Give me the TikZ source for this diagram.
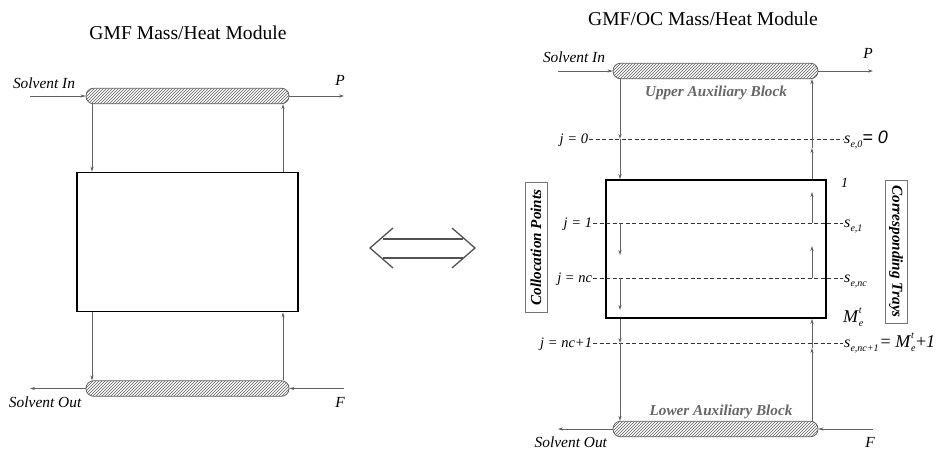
\documentclass[tikz,border=0pt]{standalone}
\usepackage{fontspec}
\setmainfont{Liberation Serif}
\newfontfamily\sansfam{Liberation Sans}
\usetikzlibrary{arrows.meta,patterns}
\newcommand{\ttlfont}{\fontsize{19.6}{22}\selectfont}
\newcommand{\labfont}{\fontsize{15.4}{17}\selectfont\itshape}
\newcommand{\bifont}{\fontsize{15.2}{17}\selectfont\bfseries\itshape}
\newcommand{\jfont}{\fontsize{14.5}{16}\selectfont\itshape}
\newcommand{\subf}{\fontsize{10}{10}\selectfont\itshape}
\newcommand{\sesub}[1]{{\fontsize{16}{17}\selectfont\itshape s}\kern0.3pt\raisebox{-4pt}{\subf #1}}
\newcommand{\Mfont}{\fontsize{18}{20}\selectfont}
\newcommand{\Met}{{\Mfont\itshape M}\kern0.8pt\rlap{\raisebox{8.5pt}{\subf t}}\raisebox{-4.5pt}{\subf e}}
\begin{document}
\begin{tikzpicture}[x=1pt,y=-1pt,
  flow/.style={draw=black!62, line width=0.7pt, -{Stealth[length=5pt,width=3.2pt,inset=1.5pt]}},
  auxblk/.style={draw=black!62, line width=0.8pt, rounded corners=7.5pt, pattern=north east lines, pattern color=black!65, inner sep=0pt, minimum height=15.5pt},
  modbox/.style={draw=black, line width=1.8pt, inner sep=0pt},
  gridln/.style={draw=black!80, line width=0.7pt, dash pattern=on 4pt off 2.5pt},
  lab/.style={inner sep=0.8pt, font=\labfont},
  jlab/.style={inner sep=0.8pt, font=\jfont, anchor=base east},
  slab/.style={inner sep=0.8pt, anchor=base west},
  graybi/.style={inner sep=0pt, font=\bifont, text=black!60},
  sidebox/.style={draw=black!55, line width=0.7pt, font=\bifont, inner sep=1pt, minimum height=22pt}]
\useasboundingbox (0,0) rectangle (946,450);

% ---------------- left module ----------------
\node[font=\ttlfont, anchor=base] (t1) at (188,39) {GMF Mass/Heat Module};
\node[auxblk, minimum width=203pt] (ub1) at (187.5,96) {};
\node[modbox, minimum width=221pt, minimum height=139pt] (rect1) at (187.5,242) {};
\node[auxblk, minimum width=203pt] (lb1) at (187.5,388.5) {};
\coordinate (xl1) at (92,0);
\coordinate (xr1) at (283,0);
\coordinate (sin1) at (30,96);
\coordinate (pout1) at (344,96);
\coordinate (sout1) at (30,388.5);
\coordinate (fin1) at (344,388.5);
\draw[flow] (sin1) -- (ub1.west);
\draw[flow] (ub1.east) -- (pout1);
\draw[flow] (ub1.south -| xl1) -- (rect1.north -| xl1);
\draw[flow] (rect1.north -| xr1) -- (ub1.south -| xr1);
\draw[flow] (rect1.south -| xl1) -- (lb1.north -| xl1);
\draw[flow] (lb1.north -| xr1) -- (rect1.south -| xr1);
\draw[flow] (lb1.west) -- (sout1);
\draw[flow] (fin1) -- (lb1.east);
\node[lab, anchor=base west] (lsin1) at (12,88) {Solvent In};
\node[lab, anchor=base] (lp1) at (340,85) {P};
\node[lab, anchor=base west] (lsout1) at (8,407) {Solvent Out};
\node[lab, anchor=base] (lf1) at (340,407) {F};

% ---------------- double arrow ----------------
\draw[draw=black!68, line width=1.3pt] (393,228) -- (370,248) -- (393,268);
\draw[draw=black!68, line width=1.3pt] (452,228) -- (475,248) -- (452,268);
\draw[draw=black!68, line width=1.3pt] (383,239) -- (463,239);
\draw[draw=black!68, line width=1.3pt] (383,258) -- (463,258);

% ---------------- right module ----------------
\node[font=\ttlfont, anchor=base] (t2) at (703,25) {GMF/OC Mass/Heat Module};
\node[auxblk, minimum width=205pt] (ub2) at (715.5,71) {};
\node[modbox, minimum width=220pt, minimum height=138pt] (rect2) at (716,249) {};
\node[auxblk, minimum width=205pt] (lb2) at (715.5,429) {};
\coordinate (xl2) at (620,0);
\coordinate (xr2) at (812,0);
\coordinate (sin2) at (558,71);
\coordinate (pout2) at (873,71);
\coordinate (sout2) at (558,429);
\coordinate (fin2) at (873,429);
\draw[flow] (sin2) -- (ub2.west);
\draw[flow] (ub2.east) -- (pout2);
\draw[flow] (lb2.west) -- (sout2);
\draw[flow] (fin2) -- (lb2.east);
\node[lab, anchor=base west] (lsin2) at (542,62) {Solvent In};
\node[lab, anchor=base] (lp2) at (868,58) {P};
\node[lab, anchor=base east] (lsout2) at (608,447) {Solvent Out};
\node[lab, anchor=base] (lf2) at (870,447) {F};
\node[graybi, anchor=base] (uab) at (716,96) {Upper Auxiliary Block};
\node[graybi, anchor=base] (lab2) at (721,415) {Lower Auxiliary Block};

% grid levels
\coordinate (d0) at (0,139);
\coordinate (d1) at (0,223);
\coordinate (d2) at (0,278);
\coordinate (d3) at (0,343);
\node[jlab] (j0) at (589,143) {j = 0};
\node[jlab] (j1) at (593,227) {j = 1};
\node[jlab] (j2) at (593,282) {j = nc};
\node[jlab] (j3) at (593,347) {j = nc+1};
\node[slab] (s0) at (843,143) {\sesub{e,0}{\sansfam\fontsize{18}{20}\selectfont\itshape= 0}};
\node[slab] (s1) at (843,227) {\sesub{e,1}};
\node[slab] (s2) at (843,282) {\sesub{e,nc}};
\node[slab] (s3) at (843,347) {\sesub{e,nc+1}\kern2pt{\Mfont = }\Met\kern0.5pt{\Mfont+\textit{1}}};
\node[slab, font=\fontsize{14}{15}\selectfont\itshape] (one) at (840,187) {1};
\node[slab] (mlab) at (842,322) {\Met};
\draw[gridln] (j0.east |- d0) -- (s0.west |- d0);
\draw[gridln] (j1.east |- d1) -- (s1.west |- d1);
\draw[gridln] (j2.east |- d2) -- (s2.west |- d2);
\draw[gridln] (j3.east |- d3) -- (s3.west |- d3);

% vertical streams
\coordinate (a0) at (0,148);
\coordinate (a1) at (0,192);
\coordinate (a2) at (0,255);
\coordinate (a3) at (0,246);
\coordinate (a4) at (0,310);
\coordinate (a5) at (0,348);
\draw[flow] (ub2.south -| xl2) -- (d0 -| xl2);
\draw[flow] (d0 -| xl2) -- (rect2.north -| xl2);
\draw[flow] (rect2.north -| xr2) -- (a0 -| xr2);
\draw[flow] (a0 -| xr2) -- (ub2.south -| xr2);
\draw[flow] (d1 -| xr2) -- (a1 -| xr2);
\draw[flow] (d1 -| xl2) -- (a2 -| xl2);
\draw[flow] (d2 -| xr2) -- (a3 -| xr2);
\draw[flow] (d2 -| xl2) -- (a4 -| xl2);
\draw[flow] (rect2.south -| xl2) -- (d3 -| xl2);
\draw[flow] (d3 -| xl2) -- (lb2.north -| xl2);
\draw[flow] (lb2.north -| xr2) -- (a5 -| xr2);
\draw[flow] (a5 -| xr2) -- (rect2.south -| xr2);

% side boxes
\node[sidebox, rotate=90, minimum width=130pt] (colp) at (536,247.5) {Collocation Points};
\node[sidebox, rotate=-90, minimum width=143pt] (ctray) at (896,251.5) {Corresponding Trays};
\end{tikzpicture}
\end{document}
